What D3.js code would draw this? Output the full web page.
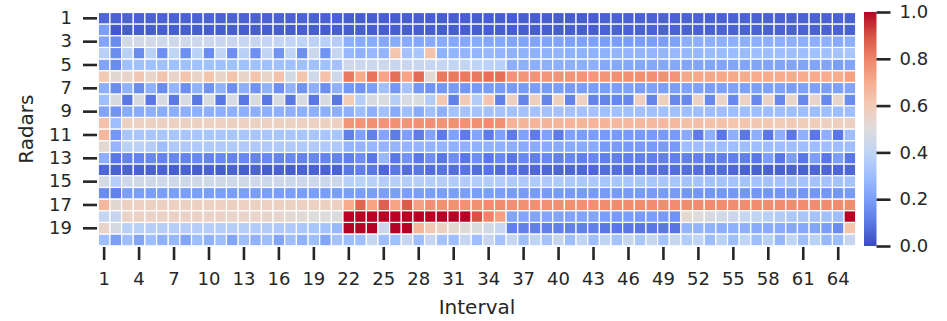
<!DOCTYPE html>
<html>
<head>
    <meta charset='utf-8'>
    <title>Radar heatmap</title>
    <style>
        body { margin: 0; background: #fff; }
        svg { display: block; font-family: "DejaVu Sans", sans-serif; }
    </style>
</head>
<body>
<svg width="947" height="321"></svg>
<script src="https://d3js.org/d3.v7.min.js"></script>
<script>
    // data
    const radars = d3.range(1, 21)
    const intervals = d3.range(1, 66)
    const xTicks = [1, 4, 7, 10, 13, 16, 19, 22, 25, 28, 31, 34, 37, 40, 43, 46, 49, 52, 55, 58, 61, 64]
    const yTicks = [1, 3, 5, 7, 9, 11, 13, 15, 17, 19]
    const cbarTicks = [0.0, 0.2, 0.4, 0.6, 0.8, 1.0]

    const radar1 = [0.06,0.05,0.05,0.05,0.05,0.05,0.05,0.05,0.05,0.05,0.05,0.05,0.05,0.05,0.05,0.05,0.05,0.05,0.05,0.05,0.05,
        0.04,0.04,0.04,0.04,0.04,0.04,0.04,0.04,0.04,0.04,0.04,0.04,0.04,0.04,0.04,0.04,0.04,0.04,0.04,0.04,0.04,0.04,
        0.05,0.05,0.05,0.05,0.05,0.05,0.05,0.05,0.05,0.05,0.05,0.05,0.05,0.05,0.05,0.05,0.05,0.05,0.05,0.05,0.05,0.05]
    const radar2 = [0.2,0.03,0.04,0.04,0.04,0.04,0.04,0.04,0.04,0.04,0.04,0.04,0.04,0.04,0.04,0.04,0.04,0.04,0.04,0.04,0.04,
        0.04,0.04,0.04,0.04,0.04,0.04,0.04,0.04,0.04,0.04,0.04,0.04,0.04,0.04,0.04,0.04,0.04,0.04,0.04,0.04,0.04,0.04,
        0.05,0.05,0.05,0.05,0.05,0.05,0.05,0.05,0.05,0.05,0.05,0.05,0.05,0.05,0.05,0.05,0.05,0.05,0.05,0.05,0.05,0.05]
    const radar3 = [0.22,0.15,0.46,0.46,0.46,0.45,0.45,0.45,0.44,0.44,0.43,0.43,0.42,0.42,0.41,0.41,0.40,0.40,0.39,0.38,0.37,
        0.25,0.24,0.24,0.23,0.24,0.24,0.23,0.24,0.24,0.23,0.23,0.24,0.23,0.23,0.22,0.22,0.22,0.22,0.22,0.21,0.21,0.21,
        0.2,0.2,0.2,0.2,0.2,0.2,0.21,0.25,0.25,0.25,0.25,0.25,0.25,0.25,0.25,0.25,0.25,0.25,0.25,0.25,0.24,0.25]
    const radar4 = [0.38,0.15,0.38,0.15,0.38,0.16,0.4,0.16,0.38,0.15,0.4,0.16,0.38,0.16,0.4,0.17,0.4,0.16,0.44,0.17,0.42,
        0.28,0.26,0.28,0.27,0.62,0.32,0.33,0.63,0.26,0.27,0.27,0.27,0.28,0.27,0.26,0.26,0.26,0.26,0.27,0.26,0.26,0.26,
        0.26,0.27,0.27,0.27,0.27,0.27,0.28,0.28,0.28,0.29,0.29,0.29,0.29,0.3,0.3,0.3,0.3,0.3,0.31,0.31,0.32,0.33]
    const radar5 = [0.22,0.15,0.31,0.31,0.31,0.31,0.31,0.31,0.31,0.31,0.31,0.31,0.31,0.31,0.31,0.31,0.31,0.31,0.31,0.31,0.32,
        0.45,0.44,0.44,0.44,0.43,0.43,0.43,0.42,0.42,0.41,0.41,0.40,0.39,0.38,0.25,0.25,0.25,0.25,0.25,0.25,0.25,0.25,
        0.23,0.23,0.23,0.23,0.23,0.23,0.23,0.22,0.22,0.22,0.22,0.22,0.22,0.22,0.22,0.22,0.22,0.22,0.22,0.22,0.2,0.22]
    const radar6 = [0.6,0.53,0.55,0.61,0.55,0.62,0.55,0.62,0.55,0.62,0.55,0.62,0.55,0.62,0.55,0.63,0.46,0.62,0.45,0.63,0.45,
        0.82,0.7,0.83,0.72,0.84,0.72,0.85,0.53,0.82,0.82,0.82,0.82,0.84,0.84,0.76,0.76,0.76,0.76,0.76,0.76,0.76,0.75,
        0.76,0.77,0.77,0.77,0.77,0.77,0.76,0.71,0.71,0.71,0.71,0.71,0.7,0.7,0.7,0.7,0.7,0.7,0.7,0.7,0.7,0.73]
    const radar7 = [0.25,0.15,0.26,0.15,0.26,0.15,0.27,0.16,0.26,0.17,0.26,0.16,0.25,0.17,0.26,0.16,0.26,0.17,0.25,0.16,0.26,
        0.18,0.17,0.2,0.31,0.18,0.32,0.18,0.17,0.18,0.19,0.18,0.19,0.19,0.19,0.19,0.19,0.2,0.19,0.2,0.19,0.2,0.2,
        0.2,0.2,0.21,0.2,0.21,0.2,0.2,0.21,0.21,0.2,0.21,0.21,0.21,0.2,0.21,0.21,0.2,0.21,0.21,0.2,0.21,0.22]
    const radar8 = [0.3,0.48,0.1,0.48,0.1,0.48,0.1,0.48,0.1,0.48,0.1,0.48,0.1,0.48,0.1,0.48,0.1,0.48,0.1,0.48,0.1,
        0.6,0.37,0.48,0.49,0.37,0.48,0.49,0.36,0.61,0.12,0.6,0.36,0.62,0.12,0.58,0.13,0.58,0.13,0.58,0.13,0.57,0.13,
        0.13,0.14,0.14,0.58,0.13,0.58,0.14,0.14,0.56,0.14,0.56,0.14,0.56,0.14,0.56,0.14,0.55,0.14,0.55,0.14,0.54,0.15]
    const radar9 = [0.22,0.17,0.24,0.24,0.25,0.24,0.25,0.25,0.25,0.25,0.25,0.25,0.25,0.25,0.25,0.25,0.25,0.25,0.25,0.25,0.25,
        0.25,0.3,0.25,0.31,0.24,0.3,0.24,0.31,0.25,0.32,0.32,0.32,0.32,0.32,0.32,0.32,0.32,0.32,0.32,0.32,0.32,0.32,
        0.31,0.31,0.31,0.31,0.31,0.31,0.31,0.3,0.3,0.3,0.3,0.3,0.3,0.3,0.3,0.3,0.3,0.3,0.3,0.3,0.3,0.3]
    const radar10 = [0.63,0.3,0.57,0.57,0.57,0.57,0.57,0.57,0.57,0.57,0.57,0.57,0.57,0.57,0.57,0.57,0.57,0.57,0.57,0.57,0.57,
        0.76,0.76,0.77,0.76,0.77,0.76,0.77,0.77,0.76,0.77,0.77,0.77,0.78,0.77,0.68,0.67,0.67,0.67,0.67,0.67,0.67,0.67,
        0.67,0.66,0.66,0.66,0.66,0.66,0.66,0.64,0.64,0.63,0.63,0.62,0.62,0.61,0.61,0.6,0.6,0.59,0.59,0.58,0.58,0.57]
    const radar11 = [0.66,0.18,0.33,0.33,0.33,0.33,0.33,0.33,0.33,0.33,0.33,0.33,0.33,0.33,0.33,0.33,0.33,0.33,0.33,0.33,0.33,
        0.12,0.21,0.12,0.22,0.11,0.21,0.11,0.22,0.11,0.21,0.11,0.22,0.11,0.21,0.11,0.21,0.11,0.21,0.11,0.21,0.2,0.2,
        0.19,0.19,0.19,0.19,0.19,0.19,0.19,0.24,0.11,0.25,0.1,0.25,0.1,0.25,0.1,0.25,0.1,0.25,0.1,0.25,0.1,0.3]
    const radar12 = [0.53,0.27,0.38,0.38,0.37,0.3,0.35,0.35,0.35,0.35,0.35,0.35,0.35,0.35,0.35,0.35,0.35,0.35,0.35,0.35,0.35,
        0.27,0.27,0.28,0.27,0.27,0.27,0.27,0.27,0.27,0.26,0.26,0.26,0.26,0.26,0.25,0.24,0.24,0.24,0.24,0.24,0.24,0.24,
        0.19,0.19,0.19,0.19,0.19,0.19,0.19,0.3,0.3,0.3,0.3,0.3,0.3,0.3,0.3,0.3,0.3,0.3,0.3,0.3,0.3,0.3]
    const radar13 = [0.25,0.1,0.13,0.13,0.14,0.13,0.14,0.13,0.14,0.13,0.14,0.13,0.14,0.13,0.14,0.13,0.14,0.13,0.14,0.13,0.13,
        0.12,0.16,0.1,0.28,0.1,0.17,0.1,0.16,0.1,0.16,0.1,0.16,0.1,0.14,0.1,0.14,0.12,0.14,0.12,0.14,0.12,0.14,
        0.12,0.12,0.12,0.12,0.12,0.12,0.12,0.12,0.12,0.12,0.12,0.12,0.12,0.1,0.2,0.1,0.2,0.1,0.2,0.1,0.2,0.1]
    const radar14 = [0.06,0.05,0.05,0.05,0.05,0.05,0.04,0.05,0.04,0.05,0.04,0.05,0.04,0.05,0.04,0.05,0.04,0.05,0.05,0.05,0.05,
        0.1,0.12,0.1,0.06,0.1,0.08,0.1,0.08,0.09,0.08,0.09,0.08,0.09,0.07,0.08,0.07,0.06,0.06,0.06,0.06,0.06,0.06,
        0.08,0.08,0.08,0.08,0.08,0.08,0.08,0.08,0.08,0.07,0.07,0.06,0.05,0.05,0.05,0.05,0.05,0.05,0.06,0.06,0.06,0.06]
    const radar15 = [0.47,0.37,0.45,0.45,0.45,0.45,0.45,0.45,0.45,0.45,0.45,0.45,0.45,0.45,0.44,0.44,0.44,0.44,0.44,0.44,0.44,
        0.38,0.38,0.38,0.37,0.37,0.37,0.37,0.37,0.37,0.36,0.36,0.36,0.36,0.36,0.35,0.35,0.35,0.35,0.35,0.34,0.34,0.34,
        0.33,0.33,0.33,0.33,0.33,0.33,0.33,0.32,0.32,0.32,0.32,0.32,0.32,0.32,0.32,0.32,0.32,0.32,0.32,0.32,0.32,0.32]
    const radar16 = [0.15,0.12,0.2,0.2,0.2,0.2,0.2,0.2,0.2,0.2,0.2,0.2,0.2,0.2,0.2,0.2,0.2,0.2,0.2,0.2,0.2,
        0.2,0.2,0.2,0.2,0.2,0.2,0.2,0.2,0.2,0.2,0.2,0.2,0.2,0.2,0.19,0.19,0.19,0.19,0.19,0.19,0.19,0.19,
        0.19,0.19,0.19,0.19,0.19,0.19,0.19,0.18,0.18,0.18,0.18,0.18,0.18,0.18,0.18,0.18,0.18,0.18,0.18,0.18,0.18,0.19]
    const radar17 = [0.66,0.53,0.57,0.57,0.57,0.57,0.57,0.57,0.57,0.57,0.57,0.57,0.57,0.57,0.57,0.57,0.57,0.57,0.57,0.57,0.57,
        0.7,0.86,0.72,0.87,0.72,0.88,0.73,0.77,0.77,0.77,0.77,0.77,0.78,0.78,0.77,0.77,0.77,0.77,0.77,0.77,0.77,0.77,
        0.78,0.78,0.78,0.78,0.78,0.78,0.78,0.78,0.78,0.78,0.78,0.78,0.78,0.78,0.78,0.78,0.78,0.78,0.78,0.78,0.78,0.78]
    const radar18 = [0.42,0.42,0.56,0.56,0.56,0.56,0.56,0.56,0.56,0.56,0.56,0.55,0.55,0.55,0.54,0.54,0.53,0.52,0.5,0.5,0.49,
        1,1,1,1,1,1,1,1,1,1,1,0.9,0.8,0.73,0.22,0.22,0.22,0.22,0.22,0.22,0.22,0.22,
        0.2,0.19,0.2,0.19,0.2,0.19,0.17,0.53,0.5,0.48,0.46,0.44,0.42,0.4,0.38,0.36,0.34,0.33,0.32,0.31,0.3,1.0]
    const radar19 = [0.55,0.47,0.38,0.38,0.37,0.37,0.37,0.37,0.37,0.37,0.37,0.37,0.37,0.36,0.36,0.35,0.35,0.34,0.33,0.32,0.28,
        1,1,1,0.44,1,1,0.67,0.61,0.57,0.53,0.51,0.49,0.46,0.42,0.12,0.12,0.12,0.12,0.12,0.12,0.12,0.12,
        0.1,0.1,0.1,0.1,0.1,0.1,0.09,0.27,0.27,0.26,0.25,0.25,0.25,0.24,0.24,0.24,0.23,0.23,0.22,0.2,0.15,0.62]
    const radar20 = [0.3,0.2,0.3,0.22,0.3,0.26,0.28,0.22,0.3,0.26,0.3,0.22,0.3,0.26,0.3,0.22,0.3,0.26,0.3,0.22,0.32,
        0.3,0.3,0.42,0.3,0.31,0.42,0.3,0.42,0.32,0.3,0.42,0.3,0.42,0.32,0.42,0.3,0.4,0.32,0.42,0.3,0.4,0.3,
        0.4,0.32,0.42,0.34,0.42,0.32,0.42,0.36,0.4,0.3,0.38,0.3,0.4,0.3,0.38,0.28,0.4,0.3,0.38,0.28,0.3,0.42]

    const values = [radar1, radar2, radar3, radar4, radar5, radar6, radar7, radar8, radar9, radar10,
        radar11, radar12, radar13, radar14, radar15, radar16, radar17, radar18, radar19, radar20]

    const ink = "#262626"
    const margin = {top: 12.5, left: 98.3, right: 855.7, bottom: 245.8}

    // matplotlib coolwarm, sampled
    const color = d3.scaleLinear()
        .domain(d3.range(0, 1.01, 0.1))
        .range(["#3b4cc0", "#5a78e4", "#7b9ff9", "#9ebeff", "#c0d4f5", "#dddcdc",
            "#f2cbb7", "#f7ac8e", "#ee8468", "#d65244", "#b40426"])
        .interpolate(d3.interpolateRgb)
        .clamp(true)

    const x = d3.scaleBand().domain(intervals).range([margin.left, margin.right])
    const y = d3.scaleBand().domain(radars).range([margin.top, margin.bottom])

    const svg = d3.select("svg")

    const cells = []
    radars.forEach((r, i) => intervals.forEach((c, j) => cells.push({r, c, v: values[i][j]})))

    svg.append("g")
        .selectAll("rect")
        .data(cells)
        .join("rect")
        .attr("x", d => x(d.c))
        .attr("y", d => y(d.r))
        .attr("width", x.bandwidth())
        .attr("height", y.bandwidth())
        .attr("fill", d => color(d.v))
        .attr("stroke", "#fff")
        .attr("stroke-width", 1.2)

    const styleAxis = g => {
        g.select(".domain").remove()
        g.selectAll(".tick line").attr("stroke", ink).attr("stroke-width", 2.6)
        g.selectAll(".tick text").attr("fill", ink).attr("font-size", 18)
            .attr("font-family", "DejaVu Sans")
    }

    svg.append("g")
        .attr("transform", "translate(0,247)")
        .call(d3.axisBottom(x).tickValues(xTicks).tickSize(13).tickPadding(12))
        .call(styleAxis)

    svg.append("g")
        .attr("transform", "translate(97,0)")
        .call(d3.axisLeft(y).tickValues(yTicks).tickSize(14).tickPadding(11))
        .call(styleAxis)

    svg.append("text")
        .attr("x", (margin.left + margin.right) / 2)
        .attr("y", 314)
        .attr("text-anchor", "middle")
        .attr("font-size", 20)
        .attr("fill", ink)
        .text("Interval")

    svg.append("text")
        .attr("transform", `translate(33,${(margin.top + margin.bottom) / 2}) rotate(-90)`)
        .attr("text-anchor", "middle")
        .attr("font-size", 20)
        .attr("fill", ink)
        .text("Radars")

    // colorbar
    const cb = {x: 864, w: 12.5, top: 12, bottom: 246}
    const grad = svg.append("defs").append("linearGradient")
        .attr("id", "cbar")
        .attr("x1", 0).attr("y1", 1).attr("x2", 0).attr("y2", 0)
    grad.selectAll("stop")
        .data(d3.range(0, 1.001, 0.02))
        .join("stop")
        .attr("offset", d => d)
        .attr("stop-color", d => color(d))

    svg.append("rect")
        .attr("x", cb.x)
        .attr("y", cb.top)
        .attr("width", cb.w)
        .attr("height", cb.bottom - cb.top)
        .attr("fill", "url(#cbar)")

    const cy = d3.scaleLinear().domain([0, 1]).range([cb.bottom, cb.top])
    svg.append("g")
        .attr("transform", `translate(${cb.x + cb.w},0)`)
        .call(d3.axisRight(cy).tickValues(cbarTicks).tickFormat(d3.format(".1f")).tickSize(14).tickPadding(9))
        .call(styleAxis)
</script>
</body>
</html>
